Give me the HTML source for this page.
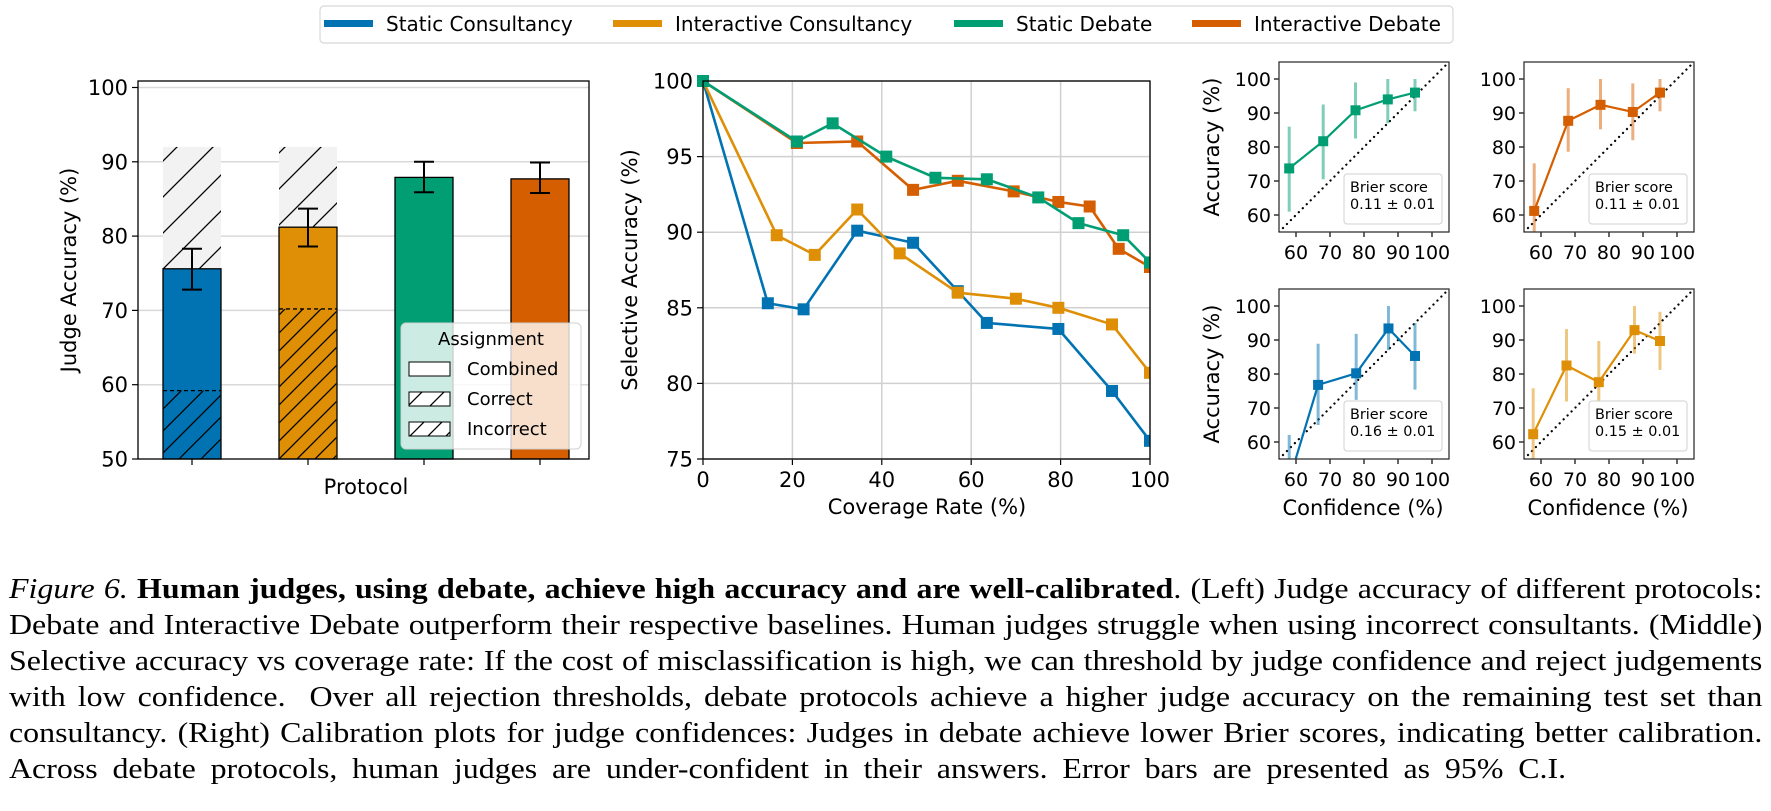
<!DOCTYPE html>
<html><head><meta charset="utf-8"><style>
html,body{margin:0;padding:0;background:#fff;}
body{width:1771px;height:811px;overflow:hidden;position:relative;}
svg{position:absolute;left:0;top:0;}
.cap{position:absolute;left:9px;width:1538px;font-family:"Liberation Serif",serif;font-size:28px;line-height:36px;white-space:nowrap;text-align:justify;text-align-last:justify;color:#000;transform:scaleX(1.14);transform-origin:0 0;}
.cap.last{text-align:left;text-align-last:left;word-spacing:6px;}
</style></head><body>
<svg id="fig" width="1771" height="560" viewBox="0 0 1771 560" font-family="DejaVu Sans, Liberation Sans, sans-serif">
<defs>
<pattern id="hatchSparse" patternUnits="userSpaceOnUse" width="36" height="36" patternTransform="translate(0,0)">
<path d="M-9,9 L9,-9 M0,36 L36,0 M27,45 L45,27" stroke="#000" stroke-width="1.3"/>
</pattern>
<pattern id="hatchDense" patternUnits="userSpaceOnUse" width="18" height="18">
<path d="M-4.5,4.5 L4.5,-4.5 M0,18 L18,0 M13.5,22.5 L22.5,13.5" stroke="#000" stroke-width="1.3"/>
</pattern>
<pattern id="hatchMid" patternUnits="userSpaceOnUse" width="22" height="22">
<path d="M-5.5,5.5 L5.5,-5.5 M0,22 L22,0 M16.5,27.5 L27.5,16.5" stroke="#000" stroke-width="1.3"/>
</pattern>
</defs>
<g id="legendTop"></g>
<g id="left"></g>
<g id="mid"></g>
<g id="cal"></g>
</svg>
<div class="cap" style="top:572px"><i>Figure 6.</i> <b>Human judges, using debate, achieve high accuracy and are well-calibrated</b>. (Left) Judge accuracy of different protocols:</div>
<div class="cap" style="top:608px">Debate and Interactive Debate outperform their respective baselines. Human judges struggle when using incorrect consultants. (Middle)</div>
<div class="cap" style="top:644px">Selective accuracy vs coverage rate: If the cost of misclassification is high, we can threshold by judge confidence and reject judgements</div>
<div class="cap" style="top:680px">with low confidence.&nbsp; Over all rejection thresholds, debate protocols achieve a higher judge accuracy on the remaining test set than</div>
<div class="cap" style="top:716px">consultancy. (Right) Calibration plots for judge confidences: Judges in debate achieve lower Brier scores, indicating better calibration.</div>
<div class="cap last" style="top:752px">Across debate protocols, human judges are under-confident in their answers. Error bars are presented as 95% C.I.</div>
<script>
// ---------- data ----------
const protocols = ["Static Consultancy","Interactive Consultancy","Static Debate","Interactive Debate"];
const colors = ["#0173b2","#de8f05","#029e73","#d55e00"];
const barCombined = [75.6, 81.2, 87.9, 87.7];
const barErrLo = [72.8, 78.6, 85.9, 85.8];
const barErrHi = [78.3, 83.7, 90.0, 89.9];
const barCorrect = [92.0, 92.0, null, null];
const barIncorrect = [59.2, 70.2, null, null];
const leftTicks = [50,60,70,80,90,100];

const covTicks = [0,20,40,60,80,100];
const accTicks = [75,80,85,90,95,100];
const covStaticCons = [0,14.5,22.5,34.5,47,57,63.5,79.5,91.5,100];
const accStaticCons = [100,85.3,84.9,90.1,89.3,86.1,84.0,83.6,79.5,76.2];
const covInterCons = [0,16.5,25,34.5,44,57,70,79.5,91.5,100];
const accInterCons = [100,89.8,88.5,91.5,88.6,86.0,85.6,85.0,83.9,80.7];
const covStaticDeb = [0,21,29,41,52,63.5,75,84,94,100];
const accStaticDeb = [100,96.0,97.2,95.0,93.6,93.5,92.3,90.6,89.8,88.0];
const covInterDeb = [0,21,34.5,47,57,69.5,79.5,86.5,93,100];
const accInterDeb = [100,95.9,96.0,92.8,93.4,92.7,92.0,91.7,88.9,87.7];

const calTicks = [60,70,80,90,100];
const confSD = [58,68,77.5,87,95];
const calAccSD = [73.7,81.7,90.8,94.0,96.0];
const calLoSD = [61,70.5,82.5,87,90.5];
const calHiSD = [86,92.5,99,100,100];
const confID = [58,68,77.5,87,95];
const calAccID = [61.2,87.7,92.4,90.3,96.0];
const calLoID = [54,78.6,85.2,82,90.5];
const calHiID = [75.2,97.3,100,98.7,100];
const confSC = [58,66.5,77.7,87.2,95];
const calAccSC = [48.7,76.8,80.2,93.4,85.3];
const calLoSC = [35,65,72.4,87,75.4];
const calHiSC = [62.1,88.9,91.8,100,95];
const confIC = [57.7,67.5,77,87.5,95];
const calAccIC = [62.3,82.5,77.6,92.9,89.7];
const calLoIC = [54,71.9,71.9,86,81.2];
const calHiIC = [75.8,93.2,89.7,100,98.3];
const brier = ["0.11 ± 0.01","0.11 ± 0.01","0.16 ± 0.01","0.15 ± 0.01"];

// ---------- helpers ----------
const NS="http://www.w3.org/2000/svg";
function mk(parent,tag,attrs,text){const e=document.createElementNS(NS,tag);for(const k in attrs)e.setAttribute(k,attrs[k]);if(text!==undefined)e.textContent=text;parent.appendChild(e);return e;}

// ---------- top legend ----------
const lg=document.getElementById('legendTop');
const lb=mk(lg,'rect',{x:320,y:6,width:1133,height:37,rx:4,fill:'#fff',stroke:'#d8d8d8','stroke-width':1.2});


const legX=[324,613,954,1192];
protocols.forEach((p,i)=>{
  const g=mk(lg,'g',{});
  
  
  mk(g,'rect',{x:legX[i],y:20,width:49,height:7,fill:colors[i]});
  mk(g,'text',{x:legX[i]+62,y:31,'font-size':20,fill:'#000'},p);
});

// ---------- left bar chart ----------
const L=document.getElementById('left');
const lx0=138,lx1=589,ly0=81,ly1=459;
const ly=v=>459-(v-50)*7.43;
mk(L,'rect',{x:lx0,y:ly0,width:lx1-lx0,height:ly1-ly0,fill:'#fff'});
leftTicks.forEach(t=>{
  if(t>50) mk(L,'line',{x1:lx0,x2:lx1,y1:ly(t),y2:ly(t),stroke:'#d9d9d9','stroke-width':1.5});
  mk(L,'line',{x1:lx0-6,x2:lx0,y1:ly(t),y2:ly(t),stroke:'#000','stroke-width':1.2});
  const tl=mk(L,'text',{x:lx0-10,y:ly(t)+7.5,'font-size':21,'text-anchor':'end'},String(t));
  
  
});
const barW=58, bx=i=>192+i*116;
protocols.forEach((p,i)=>{
  const g=mk(L,'g',{});
  
  
  const x=bx(i)-barW/2;
  if(barCorrect[i]!==null){
    mk(g,'rect',{x:x,y:ly(barCorrect[i]),width:barW,height:ly(50)-ly(barCorrect[i]),fill:'#f2f2f2'});
    mk(g,'rect',{x:x,y:ly(barCorrect[i]),width:barW,height:ly(50)-ly(barCorrect[i]),fill:'url(#hatchSparse)'});
  }
  mk(g,'rect',{x:x,y:ly(barCombined[i]),width:barW,height:ly(50)-ly(barCombined[i]),fill:colors[i],stroke:'#000','stroke-width':1.3});
  if(barIncorrect[i]!==null){
    mk(g,'rect',{x:x+0.7,y:ly(barIncorrect[i]),width:barW-1.4,height:ly(50)-ly(barIncorrect[i]),fill:i===0?'url(#hatchMid)':'url(#hatchDense)'});
    mk(g,'line',{x1:x,x2:x+barW,y1:ly(barIncorrect[i]),y2:ly(barIncorrect[i]),stroke:'#000','stroke-width':1.3,'stroke-dasharray':'4,3'});
  }
  mk(g,'line',{x1:bx(i),x2:bx(i),y1:ly(barErrLo[i]),y2:ly(barErrHi[i]),stroke:'#000','stroke-width':2});
  mk(g,'line',{x1:bx(i)-10,x2:bx(i)+10,y1:ly(barErrLo[i]),y2:ly(barErrLo[i]),stroke:'#000','stroke-width':2});
  mk(g,'line',{x1:bx(i)-10,x2:bx(i)+10,y1:ly(barErrHi[i]),y2:ly(barErrHi[i]),stroke:'#000','stroke-width':2});
  mk(L,'line',{x1:bx(i),x2:bx(i),y1:ly1,y2:ly1+6,stroke:'#000','stroke-width':1.2});
});
// legend inside
const al=mk(L,'g',{});


mk(al,'rect',{x:401,y:323,width:180,height:126,rx:5,fill:'#fff','fill-opacity':0.8,stroke:'#d0d0d0'});
mk(al,'text',{x:491,y:345,'font-size':18,'text-anchor':'middle'},'Assignment');
const aLab=['Combined','Correct','Incorrect'];
aLab.forEach((t,k)=>{
  const yy=362+k*30;
  mk(al,'rect',{x:409,y:yy,width:41,height:14,fill:'#fff',stroke:'#000'});
  if(k>0) mk(al,'rect',{x:409,y:yy,width:41,height:14,fill:k===1?'url(#hatchMid)':'url(#hatchDense)',stroke:'#000'});
  mk(al,'text',{x:467,y:yy+13,'font-size':18},t);
});
mk(L,'rect',{x:lx0,y:ly0,width:lx1-lx0,height:ly1-ly0,fill:'none',stroke:'#000','stroke-width':1.3});
const xl=mk(L,'text',{x:366,y:494,'font-size':21,'text-anchor':'middle'},'Protocol');


const yl=mk(L,'text',{x:0,y:0,'font-size':21,'text-anchor':'middle',transform:'translate(76,270) rotate(-90)'},'Judge Accuracy (%)');



// ---------- middle line chart ----------
const M=document.getElementById('mid');
const mx0=703,mx1=1150,my0=81,my1=459;
const mxs=v=>mx0+v*(mx1-mx0)/100;
const mys=v=>my1-(v-75)*(my1-my0)/25;
covTicks.forEach(t=>{
  mk(M,'line',{x1:mxs(t),x2:mxs(t),y1:my0,y2:my1,stroke:'#d0d0d0','stroke-width':1.5});
  mk(M,'line',{x1:mxs(t),x2:mxs(t),y1:my1,y2:my1+6,stroke:'#000','stroke-width':1.2});
  const tl=mk(M,'text',{x:mxs(t),y:my1+28,'font-size':21,'text-anchor':'middle'},String(t));
  
  
});
accTicks.forEach(t=>{
  mk(M,'line',{x1:mx0,x2:mx1,y1:mys(t),y2:mys(t),stroke:'#d0d0d0','stroke-width':1.5});
  mk(M,'line',{x1:mx0-6,x2:mx0,y1:mys(t),y2:mys(t),stroke:'#000','stroke-width':1.2});
  const tl=mk(M,'text',{x:mx0-10,y:mys(t)+7.5,'font-size':21,'text-anchor':'end'},String(t));
  
  
});
const series=[[covStaticCons,accStaticCons],[covInterCons,accInterCons],[covInterDeb,accInterDeb],[covStaticDeb,accStaticDeb]];
const sCol=[colors[0],colors[1],colors[3],colors[2]];
const sName=['static-consultancy','interactive-consultancy','interactive-debate','static-debate'];
const clipM=mk(M,'clipPath',{id:'clipMid'});mk(clipM,'rect',{x:mx0-8,y:my0-8,width:mx1-mx0+8,height:my1-my0+16});
series.forEach((s,i)=>{
  const g=mk(M,'g',{'clip-path':'url(#clipMid)'});
  
  
  const pts=s[0].map((c,k)=>mxs(c)+','+mys(s[1][k])).join(' ');
  mk(g,'polyline',{points:pts,fill:'none',stroke:sCol[i],'stroke-width':2.6,'stroke-linejoin':'round'});
  s[0].forEach((c,k)=>{
    const m=mk(g,'rect',{x:mxs(c)-6,y:mys(s[1][k])-6,width:12,height:12,fill:sCol[i]});
    
    
  });
});
mk(M,'rect',{x:mx0,y:my0,width:mx1-mx0,height:my1-my0,fill:'none',stroke:'#000','stroke-width':1.3});
const mxl=mk(M,'text',{x:927,y:514,'font-size':21,'text-anchor':'middle'},'Coverage Rate (%)');


const myl=mk(M,'text',{x:0,y:0,'font-size':21,'text-anchor':'middle',transform:'translate(637,270) rotate(-90)'},'Selective Accuracy (%)');



// ---------- calibration plots ----------
const C=document.getElementById('cal');
const panels=[
 {x0:1279,y0:62,conf:confSD,acc:calAccSD,lo:calLoSD,hi:calHiSD,col:colors[2],name:'static-debate',ylab:true,xlab:false,b:0},
 {x0:1524,y0:62,conf:confID,acc:calAccID,lo:calLoID,hi:calHiID,col:colors[3],name:'interactive-debate',ylab:false,xlab:false,b:1},
 {x0:1279,y0:289,conf:confSC,acc:calAccSC,lo:calLoSC,hi:calHiSC,col:colors[0],name:'static-consultancy',ylab:true,xlab:true,b:2},
 {x0:1524,y0:289,conf:confIC,acc:calAccIC,lo:calLoIC,hi:calHiIC,col:colors[1],name:'interactive-consultancy',ylab:false,xlab:true,b:3}
];
panels.forEach((P,pi)=>{
  const g=mk(C,'g',{});
  
  
  const W=170;
  const sx=v=>P.x0+(v-55)*W/50, sy=v=>P.y0+W-(v-55)*W/50;
  mk(g,'rect',{x:P.x0,y:P.y0,width:W,height:W,fill:'#fff'});
  const cp=mk(g,'clipPath',{id:'cp'+pi});mk(cp,'rect',{x:P.x0,y:P.y0,width:W,height:W});
  const inner=mk(g,'g',{'clip-path':'url(#cp'+pi+')'});
  mk(inner,'line',{x1:sx(55),y1:sy(55),x2:sx(105),y2:sy(105),stroke:'#000','stroke-width':2.2,'stroke-dasharray':'0.1,5.5','stroke-linecap':'round'});
  P.conf.forEach((c,k)=>{
    mk(inner,'line',{x1:sx(c),x2:sx(c),y1:sy(P.lo[k]),y2:sy(P.hi[k]),stroke:P.col,'stroke-opacity':0.5,'stroke-width':3});
  });
  mk(inner,'polyline',{points:P.conf.map((c,k)=>sx(c)+','+sy(P.acc[k])).join(' '),fill:'none',stroke:P.col,'stroke-width':2.2});
  P.conf.forEach((c,k)=>{
    const m=mk(inner,'rect',{x:sx(c)-5,y:sy(P.acc[k])-5,width:10,height:10,fill:P.col});
    
    
  });
  const bb=mk(g,'g',{});
  
  
  mk(bb,'rect',{x:P.x0+65,y:P.y0+112,width:98,height:50,rx:3,fill:'#fff','fill-opacity':0.85,stroke:'#d0d0d0'});
  mk(bb,'text',{x:P.x0+71,y:P.y0+130,'font-size':14.4},'Brier score');
  mk(bb,'text',{x:P.x0+71,y:P.y0+147,'font-size':14.4},brier[P.b]);
  calTicks.forEach(t=>{
    mk(g,'line',{x1:sx(t),x2:sx(t),y1:P.y0+W,y2:P.y0+W+5,stroke:'#000','stroke-width':1.2});
    mk(g,'text',{x:sx(t),y:P.y0+W+27,'font-size':19,'text-anchor':'middle'},String(t));
    mk(g,'line',{x1:P.x0-5,x2:P.x0,y1:sy(t),y2:sy(t),stroke:'#000','stroke-width':1.2});
    mk(g,'text',{x:P.x0-8,y:sy(t)+7,'font-size':19,'text-anchor':'end'},String(t));
  });
  mk(g,'rect',{x:P.x0,y:P.y0,width:W,height:W,fill:'none',stroke:'#333','stroke-width':1.3});
  if(P.ylab){const t=mk(g,'text',{x:0,y:0,'font-size':21,'text-anchor':'middle',transform:'translate('+(P.x0-60)+','+(P.y0+W/2)+') rotate(-90)'},'Accuracy (%)');
    }
  if(P.xlab){const t=mk(g,'text',{x:P.x0+W/2-1,y:P.y0+W+56,'font-size':21,'text-anchor':'middle'},'Confidence (%)');
    }
});
</script>
</body></html>
